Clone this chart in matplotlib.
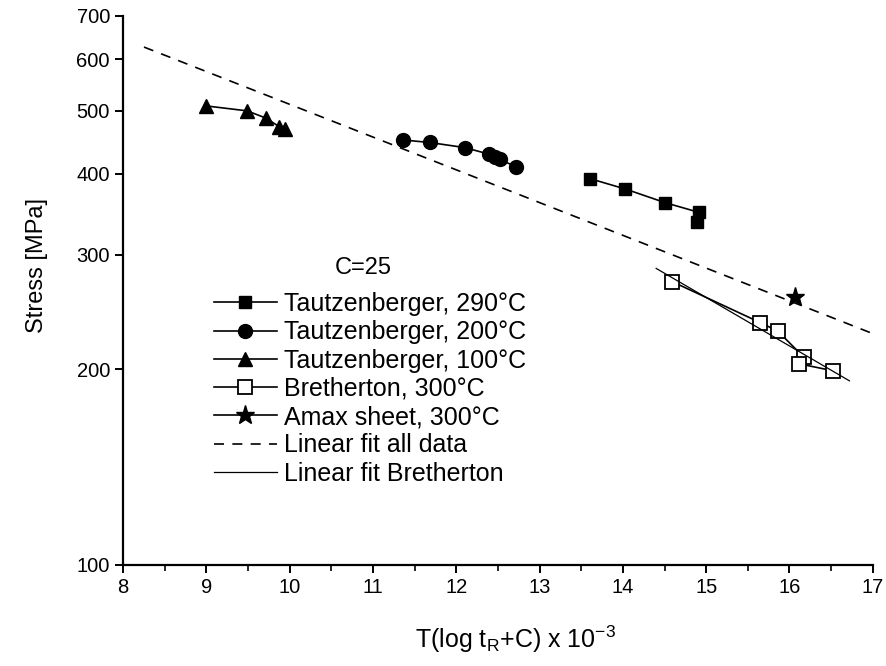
import matplotlib
matplotlib.use('Agg')
from matplotlib import pyplot as plt
from matplotlib.ticker import MultipleLocator, NullLocator, FixedLocator, FixedFormatter

plt.rcParams['font.family'] = ['Liberation Sans', 'DejaVu Sans']
plt.rcParams['mathtext.fontset'] = 'custom'
plt.rcParams['mathtext.rm'] = 'Liberation Sans'
plt.rcParams['mathtext.it'] = 'Liberation Sans:italic'

# data
tri_x = [8.99, 9.49, 9.72, 9.87, 9.94]
tri_y = [509, 500, 487, 473, 469]
circ_x = [11.36, 11.68, 12.10, 12.39, 12.46, 12.52, 12.72]
circ_y = [451, 447, 439, 429, 425, 421, 410]
sq_x = [13.61, 14.03, 14.51, 14.91, 14.89]
sq_y = [393, 379, 361, 349, 337]
bre_x = [14.59, 15.65, 15.86, 16.17, 16.11, 16.52]
bre_y = [273, 236, 229, 209, 204, 199]
amax_x = [16.07]
amax_y = [258]
fit_all_x = [8.25, 17.0]
fit_all_y = [627, 227]
fit_bre_x = [14.40, 16.72]
fit_bre_y = [286, 192]

yticks = [100, 200, 300, 400, 500, 600, 700]
xticks = [8, 9, 10, 11, 12, 13, 14, 15, 16, 17]

fig = plt.figure(figsize=(8.86, 6.66), dpi=100)
ax = fig.add_axes([0.139, 0.152, 0.846, 0.824])

lw = 1.2
ax.plot(sq_x, sq_y, '-', color='k', lw=lw, marker='s', ms=9, mfc='k', mec='k',
        label='Tautzenberger, 290\u00b0C')
ax.plot(circ_x, circ_y, '-', color='k', lw=lw, marker='o', ms=10, mfc='k', mec='k',
        label='Tautzenberger, 200\u00b0C')
ax.plot(tri_x, tri_y, '-', color='k', lw=lw, marker='^', ms=10, mfc='k', mec='k',
        label='Tautzenberger, 100\u00b0C')
ax.plot(bre_x, bre_y, '-', color='k', lw=lw, marker='s', ms=10, mfc='white', mec='k', mew=1.3,
        label='Bretherton, 300\u00b0C')
ax.plot(amax_x, amax_y, '-', color='k', lw=lw, marker='*', ms=14, mfc='k', mec='k',
        label='Amax sheet, 300\u00b0C')
ax.plot(fit_all_x, fit_all_y, '--', color='k', lw=1.2, dashes=(6, 5),
        label='Linear fit all data')
ax.plot(fit_bre_x, fit_bre_y, '-', color='k', lw=0.9,
        label='Linear fit Bretherton')

ax.set_yscale('log')
ax.set_ylim(100, 700)
ax.set_xlim(8, 17)
ax.yaxis.set_major_locator(FixedLocator(yticks))
ax.yaxis.set_major_formatter(FixedFormatter([str(v) for v in yticks]))
ax.yaxis.set_minor_locator(NullLocator())
ax.set_xticks(xticks)
ax.xaxis.set_minor_locator(MultipleLocator(0.5))

for s in ['top', 'right']:
    ax.spines[s].set_visible(False)
for s in ['left', 'bottom']:
    ax.spines[s].set_linewidth(1.6)
ax.tick_params(which='major', direction='out', length=6, width=1.4, labelsize=14.5)
ax.tick_params(which='minor', direction='out', length=4, width=1.2)

ax.set_xlabel(r'T(log t$_{\mathrm{R}}$+C) x 10$^{\mathrm{-3}}$', fontsize=18)
ax.set_ylabel('Stress [MPa]', fontsize=17)
ax.xaxis.set_label_coords(0.523, -0.108)
ax.yaxis.set_label_coords(-0.1, 0.545)

ax.text(0.32, 0.541, 'C=25', transform=ax.transAxes, fontsize=17, ha='center', va='center')
ax.legend(frameon=False, loc='upper left', bbox_to_anchor=(0.108, 0.515), fontsize=18,
          handlelength=2.5, handletextpad=0.3, labelspacing=0.17, borderaxespad=0)

fig.savefig('out.png', dpi=100)
